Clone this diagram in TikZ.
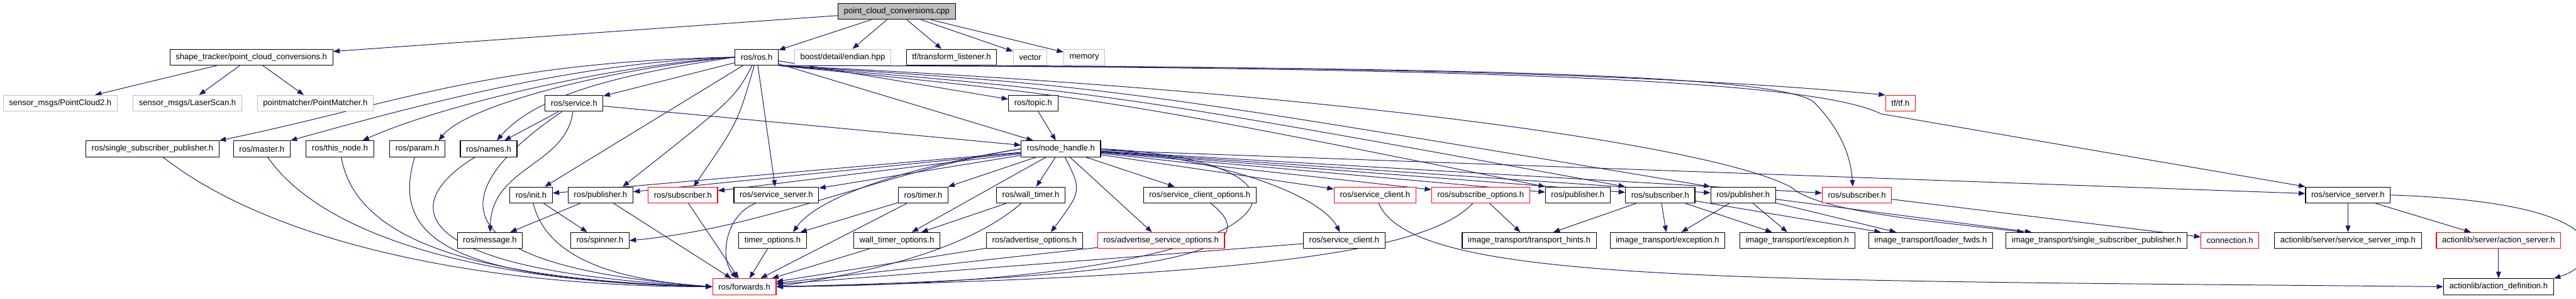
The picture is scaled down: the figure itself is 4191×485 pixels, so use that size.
\documentclass[tikz,border=0pt]{standalone}
\usepackage{fontspec}
\setmainfont{Liberation Sans}
\usetikzlibrary{arrows.meta}
\definecolor{edgeblue}{RGB}{25,25,112}
\definecolor{lightframe}{RGB}{191,191,191}
\pgfdeclarelayer{edges}
\pgfsetlayers{edges,main}

\begin{document}
\begin{tikzpicture}[x=0.75pt,y=-0.75pt,
    file/.style={draw=black,line width=0.9pt,fill=white,inner xsep=7pt,inner ysep=0pt,
      minimum height=19.5pt,font=\fontsize{10}{12}\selectfont},
    sysfile/.style={file,draw=lightframe},
    cutfile/.style={file,draw=red},
    dep/.style={draw=edgeblue,line width=0.75pt,-{Triangle[length=8pt,width=6pt]}}]
    \useasboundingbox (0,0) rectangle (4191,485);

    \node[file,fill=lightframe] (pcc) at (1459,18.5) {point\_cloud\_conversions.cpp};

    \node[file] (stpcc) at (409,93) {shape\_tracker/point\_cloud\_conversions.h};
    \node[file] (rosh) at (1231,93) {ros/ros.h};
    \node[sysfile] (endian) at (1371,93) {boost/detail/endian.hpp};
    \node[file] (tflist) at (1548,93) {tf/transform\_listener.h};
    \node[sysfile] (vect) at (1676,93) {vector};
    \node[sysfile] (mem) at (1764,93) {memory};

    \node[sysfile] (pc2) at (98,168) {sensor\_msgs/PointCloud2.h};
    \node[sysfile] (lscan) at (305,168) {sensor\_msgs/LaserScan.h};
    \node[sysfile] (pm) at (513,168) {pointmatcher/PointMatcher.h};
    \node[file] (srv) at (934,168) {ros/service.h};
    \node[file] (topic) at (1681,168) {ros/topic.h};
    \node[cutfile] (tf) at (3092,168) {tf/tf.h};

    \node[file] (ssp) at (248,242) {ros/single\_subscriber\_publisher.h};
    \node[file] (master) at (426,242) {ros/master.h};
    \node[file] (thisnode) at (553,242) {ros/this\_node.h};
    \node[file] (param) at (679,242) {ros/param.h};
    \node[file] (names) at (795,242) {ros/names.h};
    \node[file] (nh) at (1726,242) {ros/node\_handle.h};

    \node[file] (init) at (864,317) {ros/init.h};
    \node[file] (pubA) at (977,317) {ros/publisher.h};
    \node[cutfile] (subA) at (1111,317) {ros/subscriber.h};
    \node[file] (ssrvA) at (1263,317) {ros/service\_server.h};
    \node[file] (timer) at (1502,317) {ros/timer.h};
    \node[file] (wtimer) at (1677,317) {ros/wall\_timer.h};
    \node[file] (sco) at (1952,317) {ros/service\_client\_options.h};
    \node[cutfile] (sclR) at (2237,317) {ros/service\_client.h};
    \node[cutfile] (subopt) at (2409,317) {ros/subscribe\_options.h};
    \node[file] (pubB) at (2567,317) {ros/publisher.h};
    \node[file] (subB) at (2701,317) {ros/subscriber.h};
    \node[file] (pubC) at (2836,317) {ros/publisher.h};
    \node[cutfile] (subC) at (3021,317) {ros/subscriber.h};
    \node[file] (ssrvB) at (3820,317) {ros/service\_server.h};

    \node[file] (msg) at (797,391) {ros/message.h};
    \node[file] (spin) at (976,391) {ros/spinner.h};
    \node[file] (topt) at (1257,391) {timer\_options.h};
    \node[file] (wtopt) at (1459,391) {wall\_timer\_options.h};
    \node[file] (advopt) at (1683,391) {ros/advertise\_options.h};
    \node[cutfile] (asopt) at (1889,391) {ros/advertise\_service\_options.h};
    \node[file] (scl) at (2187,391) {ros/service\_client.h};
    \node[file] (hints) at (2488,391) {image\_transport/transport\_hints.h};
    \node[file] (excA) at (2713,391) {image\_transport/exception.h};
    \node[file] (excB) at (2924,391) {image\_transport/exception.h};
    \node[file] (loader) at (3141,391) {image\_transport/loader\_fwds.h};
    \node[file] (itssp) at (3411,391) {image\_transport/single\_subscriber\_publisher.h};
    \node[cutfile] (conn) at (3628,391) {connection.h};
    \node[file] (ssimp) at (3820,391) {actionlib/server/service\_server\_imp.h};
    \node[cutfile] (actsrv) at (4065,391) {actionlib/server/action\_server.h};

    \node[cutfile] (fwd) at (1211,466) {ros/forwards.h};
    \node[file] (actdef) at (4065,466) {actionlib/action\_definition.h};

    \begin{pgfonlayer}{edges}
    \foreach \t in {stpcc,rosh,endian,tflist,vect,mem}
      \draw[dep] (pcc) -- (\t);
    \foreach \t in {pc2,lscan,pm}
      \draw[dep] (stpcc) -- (\t);

    \draw[dep] (rosh.west) .. controls (800,100) and (640,170) .. (ssp.north east);
    \draw[dep] (rosh.west) .. controls (950,100) and (700,165) .. (master.north east);
    \draw[dep] (rosh.west) .. controls (1000,105) and (720,170) .. ([xshift=-14pt]thisnode.north east);
    \draw[dep] (rosh.west) .. controls (1000,110) and (760,170) .. ([xshift=-8pt]param.north east);
    \draw[dep] (rosh.west) .. controls (1050,115) and (880,145) .. ([xshift=10pt]names.north);
    \foreach \t in {srv,init,ssrvA,topic,nh}
      \draw[dep] (rosh) -- (\t);
    \draw[dep] (rosh) .. controls (1195,160) .. ([xshift=27pt]pubA.north);
    \draw[dep] (rosh) .. controls (1200,200) .. ([xshift=13pt]subA.north);
    \draw[dep] (rosh.south east) .. controls (2300,108) and (2880,118) .. (2950,165)
      .. controls (3005,220) and (3012,270) .. ([xshift=-5pt]subC.north);
    \draw[dep] (rosh.south east) .. controls (2500,108) and (2960,135) .. (3060,185) -- (ssrvB.north west);
    \draw[dep] (rosh.south east) .. controls (2200,150) and (2800,240) .. (2915,305)
      .. controls (2960,345) and (3150,360) .. ([xshift=22pt]itssp.north west);
    \draw[dep] (rosh.south east) .. controls (1800,150) .. (subB.north west);
    \draw[dep] (rosh.south east) .. controls (1800,140) .. (pubC.north west);
    \draw[dep] (rosh.south east) .. controls (1800,160) .. (pubB.north west);
    \draw[dep] (tflist.south east) .. controls (2200,110) and (2700,120) .. (tf.north west);

    \draw[dep] (topic) -- (nh);
    \draw[dep] (srv) -- (nh);
    \draw[dep] (srv) -- (names);
    \draw[dep] (srv) .. controls (920,270) and (800,270) .. (msg);
    \draw[dep] (srv) .. controls (740,300) and (680,430) .. (fwd.west);

    \foreach \t in {init,pubA,subA,ssrvA,timer,wtimer,wtopt,asopt,sco,sclR,subopt,pubB,subB,pubC,subC,ssrvB}
      \draw[dep] (nh) -- (\t);
    \draw[dep] (nh.east) .. controls (2200,260) and (2150,460) .. (fwd.east);
    \draw[dep] (nh.west) .. controls (1480,270) and (1330,320) .. ([xshift=25pt]topt.north);
    \draw[dep] (nh) .. controls (1760,310) .. ([xshift=20pt]advopt.north);
    \draw[dep] (nh.east) .. controls (2000,260) and (2150,320) .. (scl);
    \draw[dep] (nh.west) .. controls (1450,275) and (1250,370) .. (spin.east);

    \draw[dep] (ssp) .. controls (450,400) and (800,466) .. (fwd.west);
    \draw[dep] (master) .. controls (530,390) and (800,460) .. (fwd.west);
    \draw[dep] (thisnode) .. controls (580,400) and (800,455) .. (fwd.west);
    \draw[dep] (param) .. controls (630,400) and (760,455) .. (fwd.west);
    \draw[dep] (names) .. controls (650,330) and (650,440) .. (fwd.west);
    \draw[dep] (init) .. controls (890,420) and (1000,455) .. (fwd.west);
    \draw[dep] (init) -- (spin);
    \draw[dep] (pubA) -- (msg);
    \foreach \s in {pubA,subA,topt,timer,wtopt,advopt,asopt,scl}
      \draw[dep] (\s) -- (fwd);
    \draw[dep] (ssrvA) .. controls (1180,350) and (1170,420) .. (fwd);
    \draw[dep] (timer) -- (topt);
    \draw[dep] (wtimer) -- (wtopt);
    \draw[dep] (wtimer) .. controls (1570,410) and (1400,445) .. (fwd.east);
    \draw[dep] (sco) .. controls (2060,400) and (1950,450) .. (fwd.east);
    \draw[dep] (subopt) .. controls (2330,400) and (2100,450) .. (fwd.east);
    \draw[dep] (subopt) -- (hints);
    \draw[dep] (sclR) .. controls (2300,460) and (2800,455) .. (actdef.west);

    \foreach \t in {hints,excA,excB,loader}
      \draw[dep] (subB) -- (\t);
    \foreach \t in {excA,excB,loader,itssp}
      \draw[dep] (pubC) -- (\t);
    \draw[dep] (subC) -- (conn);
    \draw[dep] (ssrvB) -- (ssimp);
    \draw[dep] (ssrvB) -- (actsrv);
    \draw[dep] (ssrvB.east) .. controls (4280,330) and (4230,430) .. (actdef.north east);
    \draw[dep] (actsrv) -- (actdef);
    \end{pgfonlayer}
\end{tikzpicture}
\end{document}
